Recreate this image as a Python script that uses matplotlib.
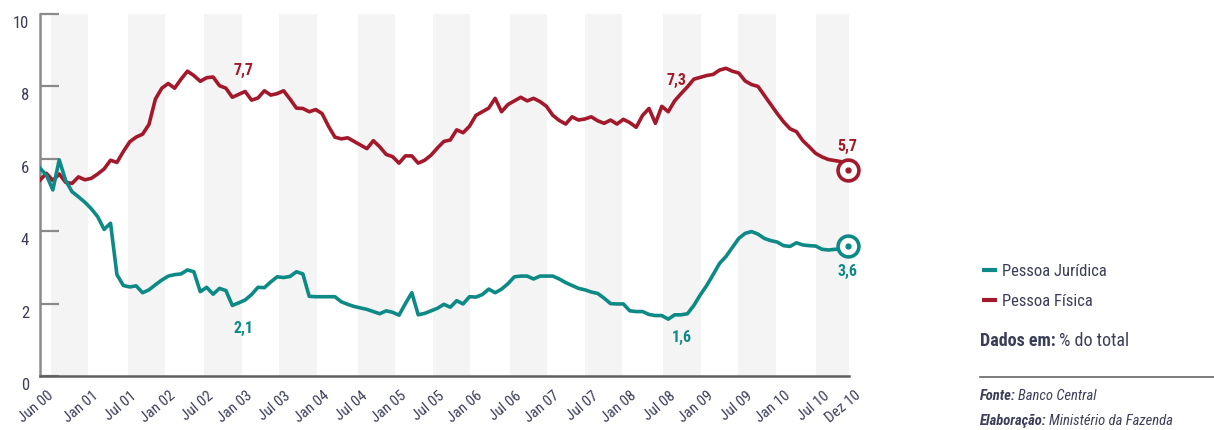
import matplotlib
matplotlib.use('Agg')
import matplotlib.pyplot as plt
from matplotlib import font_manager
from matplotlib.transforms import ScaledTranslation
from matplotlib.lines import Line2D


def pick(cands):
    for c in cands:
        try:
            font_manager.findfont(font_manager.FontProperties(family=c), fallback_to_default=False)
            return c
        except Exception:
            pass
    return 'DejaVu Sans'


FONT = pick(['Liberation Sans Narrow', 'Roboto Condensed', 'Open Sans Condensed',
             'DejaVu Sans Condensed', 'Open Sans'])
plt.rcParams['font.family'] = [FONT, 'DejaVu Sans']

# ---------------- data (monthly, Jun 2000 .. Dez 2010) ----------------
pessoa_fisica = [
    5.41, 5.60, 5.40, 5.58, 5.35, 5.32, 5.50, 5.42, 5.46, 5.58,
    5.72, 5.96, 5.90, 6.20, 6.47, 6.60, 6.68, 6.95, 7.65, 7.95,
    8.08, 7.95, 8.20, 8.42, 8.30, 8.14, 8.24, 8.26, 8.02, 7.95,
    7.70, 7.78, 7.86, 7.62, 7.68, 7.88, 7.76, 7.80, 7.88, 7.65,
    7.40, 7.39, 7.30, 7.36, 7.25, 6.90, 6.60, 6.55, 6.58, 6.48,
    6.38, 6.28, 6.50, 6.33, 6.12, 6.06, 5.88, 6.08, 6.08, 5.88,
    5.96, 6.10, 6.30, 6.48, 6.52, 6.80, 6.72, 6.90, 7.20, 7.30,
    7.40, 7.67, 7.30, 7.50, 7.60, 7.70, 7.60, 7.67, 7.58, 7.45,
    7.20, 7.06, 6.96, 7.16, 7.07, 7.10, 7.16, 7.05, 6.98, 7.07,
    6.96, 7.09, 7.00, 6.87, 7.20, 7.39, 6.98, 7.45, 7.30, 7.60,
    7.80, 7.99, 8.20, 8.25, 8.30, 8.33, 8.45, 8.50, 8.42, 8.37,
    8.15, 8.05, 8.00, 7.75, 7.50, 7.25, 7.02, 6.83, 6.75, 6.50,
    6.33, 6.15, 6.05, 5.98, 5.95, 5.92, 5.70,
]
pessoa_juridica = [
    5.74, 5.55, 5.14, 5.97, 5.40, 5.09, 4.95, 4.80, 4.62, 4.40,
    4.05, 4.22, 2.80, 2.50, 2.46, 2.49, 2.30, 2.38, 2.52, 2.65,
    2.76, 2.80, 2.82, 2.93, 2.88, 2.33, 2.45, 2.26, 2.42, 2.36,
    1.95, 2.02, 2.10, 2.25, 2.45, 2.44, 2.60, 2.74, 2.72, 2.75,
    2.88, 2.82, 2.20, 2.19, 2.19, 2.19, 2.19, 2.05, 1.98, 1.92,
    1.88, 1.84, 1.78, 1.72, 1.80, 1.76, 1.68, 2.00, 2.30, 1.69,
    1.73, 1.80, 1.87, 1.98, 1.90, 2.08, 1.99, 2.19, 2.18, 2.25,
    2.40, 2.30, 2.40, 2.55, 2.74, 2.76, 2.76, 2.68, 2.76, 2.76,
    2.76, 2.68, 2.58, 2.50, 2.42, 2.38, 2.32, 2.28, 2.15, 2.00,
    1.99, 1.99, 1.80, 1.78, 1.78, 1.70, 1.67, 1.67, 1.57, 1.69,
    1.69, 1.72, 1.95, 2.24, 2.50, 2.80, 3.11, 3.30, 3.55, 3.80,
    3.94, 3.99, 3.92, 3.80, 3.74, 3.70, 3.60, 3.58, 3.68, 3.62,
    3.60, 3.59, 3.50, 3.48, 3.50, 3.50, 3.60,
]
months = list(range(len(pessoa_fisica)))

tick_months = [0, 7, 13, 19, 25, 31, 37, 43, 49, 55, 61, 67, 73, 79, 85, 91,
               97, 103, 109, 115, 121, 126]
tick_labels = ['Jun 00', 'Jan 01', 'Jul 01', 'Jan 02', 'Jul 02', 'Jan 03', 'Jul 03',
               'Jan 04', 'Jul 04', 'Jan 05', 'Jul 05', 'Jan 06', 'Jul 06', 'Jan 07',
               'Jul 07', 'Jan 08', 'Jul 08', 'Jan 09', 'Jul 09', 'Jan 10', 'Jul 10',
               'Dez 10']

# annotations: (series, index, text)
annotations = [
    ('pf', 32, '7,7'), ('pj', 30, '2,1'), ('pf', 98, '7,3'),
    ('pj', 98, '1,6'), ('pf', 126, '5,7'), ('pj', 126, '3,6'),
]
ann_offsets_px = [(-2, 21), (11, -23), (8, 31), (14, -18), (0, 23), (0, -26)]

# shaded bands (styling, months)
band_starts = [1.7, 13.7, 25.6, 37.3, 49.6, 61.3, 73.3, 85.0, 97.2, 108.9, 121.1]
band_width = 5.85

RED = '#a3192b'
TEAL = '#0e8a86'
TXT = '#3c3e58'

W, H = 1214, 430
fig = plt.figure(figsize=(W / 100, H / 100), dpi=100)
ax = fig.add_axes([40 / W, 54 / H, 809 / W, 362 / H])

for s in band_starts:
    ax.axvspan(s, s + band_width, color='#f4f4f4', lw=0, zorder=0)

ax.plot(months, pessoa_fisica, color=RED, lw=2.6, solid_joinstyle='round', zorder=3)
ax.plot(months, pessoa_juridica, color=TEAL, lw=2.6, solid_joinstyle='round', zorder=3)

for ser, col in ((pessoa_fisica, RED), (pessoa_juridica, TEAL)):
    ax.plot([months[-1]], [ser[-1]], 'o', ms=15, mfc='white', mec=col, mew=2.6,
            clip_on=False, zorder=5)
    ax.plot([months[-1]], [ser[-1]], 'o', ms=3.5, color=col, clip_on=False, zorder=6)

series = {'pf': (pessoa_fisica, RED), 'pj': (pessoa_juridica, TEAL)}
for (key, idx, txt), (dx, dy) in zip(annotations, ann_offsets_px):
    ser, col = series[key]
    ax.annotate(txt, xy=(months[idx], ser[idx]), xytext=(dx * 0.72, dy * 0.72),
                textcoords='offset points', ha='center', va='center',
                color=col, fontsize=11.5, fontweight='bold', zorder=7,
                annotation_clip=False)

ax.set_xlim(0, 126.2)
ax.set_ylim(0, 10)

ax.set_yticks([0, 2, 4, 6, 8, 10])
ax.tick_params(axis='y', direction='in', length=13.5, width=1.6, color='#8a8a8a',
               labelsize=12, labelcolor=TXT, pad=8)
for lab in ax.get_yticklabels():
    lab.set_transform(lab.get_transform() + ScaledTranslation(0, -8 / 100, fig.dpi_scale_trans))

ax.set_xticks(tick_months)
ax.set_xticklabels(tick_labels, rotation=40, ha='right', va='top',
                   rotation_mode='anchor', fontsize=11, color=TXT)
ax.tick_params(axis='x', length=0, pad=9)
for lab in ax.get_xticklabels():
    lab.set_transform(lab.get_transform() + ScaledTranslation(7 / 100, 0, fig.dpi_scale_trans))

for sp in ('top', 'right'):
    ax.spines[sp].set_visible(False)
ax.spines['left'].set_color('#8a8a8a')
ax.spines['left'].set_linewidth(1.8)
ax.spines['bottom'].set_color('#5e5e5e')
ax.spines['bottom'].set_linewidth(1.8)

# ---------------- legend / notes (figure coords) ----------------
def fx(px):
    return px / W


def fy(py):
    return 1 - py / H


for col, py, label in ((TEAL, 270, 'Pessoa Jurídica'), (RED, 300, 'Pessoa Física')):
    fig.add_artist(Line2D([fx(982), fx(997)], [fy(py), fy(py)], color=col, lw=3,
                          solid_capstyle='butt'))
    fig.text(fx(1002), fy(py + 2), label, ha='left', va='center', fontsize=12, color=TXT)

fig.canvas.draw()
renderer = fig.canvas.get_renderer()


def two_part(x, y, a, b, size, style_a, style_b, gap=3):
    t1 = fig.text(x, y, a, ha='left', va='center', fontsize=size, color=TXT, **style_a)
    bb = t1.get_window_extent(renderer=renderer)
    fig.text((bb.x1 + gap) / W, y, b, ha='left', va='center', fontsize=size, color=TXT, **style_b)


two_part(fx(980), fy(341), 'Dados em:', '% do total', 13,
         {'fontweight': 'bold'}, {})
fig.add_artist(Line2D([fx(980), fx(1214)], [fy(377), fy(377)], color='#666666', lw=1.2))
two_part(fx(980), fy(396), 'Fonte:', 'Banco Central', 10.5,
         {'fontweight': 'bold', 'fontstyle': 'italic'}, {'fontstyle': 'italic'}, gap=2)
two_part(fx(980), fy(421), 'Elaboração:', 'Ministério da Fazenda', 10.5,
         {'fontweight': 'bold', 'fontstyle': 'italic'}, {'fontstyle': 'italic'}, gap=2)

fig.savefig('out.png', dpi=100)
